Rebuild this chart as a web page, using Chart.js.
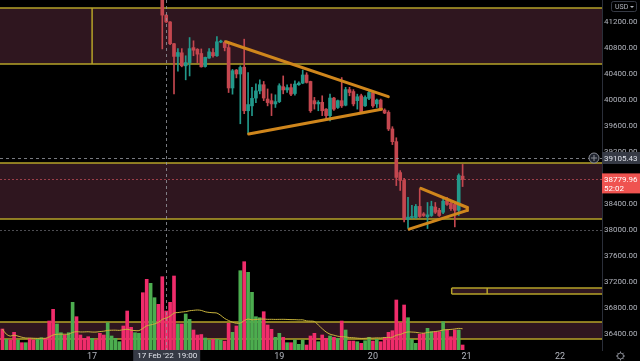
<!DOCTYPE html>
<html>
<head>
<meta charset="utf-8">
<script src="https://cdn.jsdelivr.net/npm/chart.js@4.4.1/dist/chart.umd.min.js"></script>
<style>
html,body{margin:0;padding:0;background:#000;overflow:hidden;}
#box{position:relative;width:640px;height:361px;}
canvas{display:block;}
</style>
</head>
<body>
<div id="box"><canvas id="chart" width="640" height="361"></canvas></div>
<script>
// ---------- DATA (hourly BTC/USD, hour index 0 = 16 Feb 2022 00:00) ----------
const dayTicks  = [24, 48, 72, 96, 120, 144];
const dayLabels = ['17', '18', '19', '20', '21', '22'];

// volume, one bar per hour starting at hour 1
const FIRST_VOL_HOUR = 1;
const volume = [
 210,107,100,177,100, 73, 73,117,100,107,123,117,290,407,260,173,150,173,477,333,
 150,117,133,117,100,167,150,273,140,117, 83,240,390,227,173,167,573,707,667,523,
 457,733,390,477,740,260,260,360,307,200,150,155,120,100,107,107,100, 90,267,177,
 240,793,883,777,577,333,323,383,250,207,127,167,127, 73, 73,100, 57,100, 50,140,
 167, 83,150,117,140,127,117,290,200, 90, 90, 83, 67, 93,127, 90,107, 83,127,177,
 193,500,273,450,323,107, 67,157,167,217,183,183,183,283,200,133,200,200, 50
];
// direction of the volume bars whose candles are above the visible price range
const earlyDir = ['d','u','d','d','u','d','u','d','d','u','u','d','d','d','u','u','d','u','u','d',
                  'd','d','d','u','d','d','d','u','u','u','u','d','d','d','u','u','d','d','u','u','d'];

// visible candles, starting at hour 42 (17 Feb 18:00)
const FIRST_CANDLE_HOUR = 42;
const open  = [41700,41305,41200,40865,40670,40725,40525,40575,40805,40780,40715,40515,40645,40730,40680,40890,40885,40805,40185,40460,
               40400,40505,39835,39910,40030,40140,40235,40015,39990,39940,39975,40205,40155,40190,40100,40235,40260,40385,40285,39990,
               39940,39965,39860,39760,40030,39885,39990,39920,40160,40130,39990,40065,39910,40025,40115,39940,40000,39845,39810,39555,
               39360,38885,38765,38165,38195,38195,38365,38250,38205,38225,38355,38305,38275,38455,38415,38395,38305,38830];
const high  = [41750,41310,41205,40870,40790,40790,40680,40960,40910,40790,40785,40660,40790,40790,40975,40920,40910,40885,40470,40470,
               40525,40935,40420,40195,40250,40310,40285,40170,40095,40080,40250,40370,40235,40245,40295,40280,40460,40420,40290,40040,
               39990,40065,39870,40090,40040,40000,40345,40195,40195,40160,40090,40090,40065,40155,40125,40015,40015,39865,39835,39590,
               39420,38915,38795,38505,38380,38395,38635,38270,38425,38445,38425,38335,38480,38505,38440,38410,38865,39010];
const low   = [40785,41190,40850,40095,40445,40510,40310,40370,40680,40575,40505,40505,40640,40660,40670,40880,40755,40115,40090,40340,
               39635,39790,39480,39760,39960,40095,39990,39910,39760,39885,39960,40095,40115,40065,40075,40225,40250,40260,39810,39860,
               39835,39760,39710,39680,39840,39870,39885,39910,40065,39910,39860,39805,39900,40005,39885,39885,39835,39790,39530,39315,
               38685,38610,38125,38025,38180,38180,38195,38210,38025,38210,38255,38210,38255,38380,38305,38050,38225,38670];
const close = [41305,41200,40865,40670,40730,40525,40575,40790,40765,40705,40510,40655,40740,40680,40895,40905,40805,40185,40450,40400,
               40500,39835,39930,40025,40140,40235,40030,39960,39940,39975,40220,40155,40190,40090,40245,40260,40385,40270,39835,39940,
               39965,39835,39760,40030,39860,39990,39910,40160,40115,39940,40050,39810,40040,40115,39910,40000,39860,39800,39555,39360,
               38810,38765,38165,38200,38210,38365,38210,38225,38235,38365,38275,38225,38445,38395,38330,38305,38840,38780];

// chart drawings (hour, price)
const triangle1Upper = [{x: 58.3, y: 40896}, {x: 99.95, y: 40051}];
const triangle1Lower = [{x: 64.15, y: 39478}, {x: 98.2, y: 39857}];
const triangle2Upper = [{x: 108.3, y: 38643}, {x: 120.2, y: 38348}];
const triangle2Lower = [{x: 105.3, y: 38015}, {x: 120.2, y: 38303}];
const triangle2Close = [{x: 120.2, y: 38348}, {x: 120.2, y: 38303}];

const zoneFrom   = [-10, -10, 116.2, -10];
const zoneTop    = [41409, 39037, 37107, 36584];
const zoneBottom = [40553, 38171, 37014, 36327];
const zoneMarks  = [[24], [], [125.3], []];

const crossHour = 43;
const crossPrice = 39105.43;
const crossTimeLabel = ["17 Feb '22", "19:00"];
const lastPrice = 38779.96;
const countdown = '52:02';
const levelLine = 38000;

// ---------- STYLE ----------
const C = {
  up: '#22998b', down: '#c4474f',
  volUp: '#4cad4f', volDown: '#f02c6b',
  ma: '#c9b43c', tri: '#cf861c',
  zoneFill: '#2f161f', zoneLine: '#b5a229',
  text: '#b2b5be', axisLine: '#2a2e39', label: '#363a45'
};
Chart.defaults.font.family = 'Roboto, "Noto Sans", sans-serif';

// ---------- BUILD ----------
const candleUp = open.map((o, i) => close[i] >= o);
const volUp = volume.map((v, i) => {
  const h = FIRST_VOL_HOUR + i;
  const ci = h - FIRST_CANDLE_HOUR;
  return ci >= 0 ? candleUp[ci] : earlyDir[i] === 'u';
});
const volData = volume.map((v, i) => ({x: FIRST_VOL_HOUR + i, y: v}));
const maData = volume.map((v, i) => {
  const w = volume.slice(Math.max(0, i - 19), i + 1);
  return {x: FIRST_VOL_HOUR + i, y: w.reduce((a, b) => a + b, 0) / w.length};
});
const wickData = open.map((o, i) => ({x: FIRST_CANDLE_HOUR + i, y: [low[i], high[i]]}));
const bodyData = open.map((o, i) => ({x: FIRST_CANDLE_HOUR + i, y: [Math.min(o, close[i]), Math.max(o, close[i])]}));

const triDs = d => ({type: 'line', data: d, borderColor: C.tri, borderWidth: 3, pointRadius: 0,
  yAxisID: 'y', order: 1, borderCapStyle: 'round'});

const noPad = s => { s.paddingTop = 0; s.paddingBottom = 0; s.paddingLeft = 0; s.paddingRight = 0; };

const tvPlugin = {
  id: 'tv',
  beforeDatasetsDraw(chart) {
    const {ctx, chartArea: a, scales: {x, y}} = chart;
    ctx.save();
    ctx.beginPath(); ctx.rect(a.left, a.top, a.right - a.left, a.bottom - a.top); ctx.clip();
    zoneTop.forEach((t, i) => {
      const x0 = Math.max(a.left - 2, x.getPixelForValue(zoneFrom[i]));
      const x1 = a.right;
      const y0 = Math.round(y.getPixelForValue(t)), y1 = Math.round(y.getPixelForValue(zoneBottom[i]));
      ctx.fillStyle = C.zoneFill;
      ctx.fillRect(x0, y0, x1 - x0, y1 - y0);
      ctx.strokeStyle = C.zoneLine; ctx.lineWidth = 1.5;
      ctx.beginPath();
      ctx.moveTo(x0, y0); ctx.lineTo(x1, y0);
      ctx.moveTo(x0, y1); ctx.lineTo(x1, y1);
      if (x0 > a.left) { ctx.moveTo(x0, y0); ctx.lineTo(x0, y1); }
      zoneMarks[i].forEach(h => { const xm = x.getPixelForValue(h); ctx.moveTo(xm, y0); ctx.lineTo(xm, y1); });
      ctx.stroke();
    });
    ctx.lineWidth = 1;
    ctx.setLineDash([2, 2]);
    let ly = Math.round(y.getPixelForValue(levelLine)) + 0.5;
    ctx.strokeStyle = 'rgba(140,140,150,0.55)';
    ctx.beginPath(); ctx.moveTo(a.left, ly); ctx.lineTo(a.right, ly); ctx.stroke();
    ly = Math.round(y.getPixelForValue(lastPrice)) + 0.5;
    ctx.strokeStyle = 'rgba(200,80,90,0.7)';
    ctx.beginPath(); ctx.moveTo(a.left, ly); ctx.lineTo(a.right, ly); ctx.stroke();
    ctx.restore();
  },
  afterDatasetsDraw(chart) {
    const {ctx, chartArea: a, scales: {x, y}} = chart;
    ctx.save();
    ctx.strokeStyle = 'rgba(150,152,160,0.8)'; ctx.lineWidth = 1; ctx.setLineDash([3, 3]);
    const cx = Math.round(x.getPixelForValue(crossHour)) + 0.5;
    const cy = Math.round(y.getPixelForValue(crossPrice)) + 0.5;
    ctx.beginPath(); ctx.moveTo(cx, a.top); ctx.lineTo(cx, a.bottom); ctx.stroke();
    ctx.beginPath(); ctx.moveTo(a.left, cy); ctx.lineTo(a.right, cy); ctx.stroke();
    ctx.restore();
  },
  afterDraw(chart) {
    const {ctx, chartArea: a, scales: {x, y}} = chart;
    const W = chart.width;
    ctx.save();
    ctx.textBaseline = 'middle'; ctx.textAlign = 'left';
    ctx.font = '8px Roboto';
    const cy = Math.round(y.getPixelForValue(crossPrice));
    ctx.fillStyle = C.label; ctx.fillRect(a.right, cy - 6, W - a.right, 12);
    ctx.fillStyle = '#e0e3eb'; ctx.fillText(crossPrice.toFixed(2), a.right + 2, cy + 0.5);
    ctx.beginPath(); ctx.arc(a.right - 8, cy, 5, 0, Math.PI * 2);
    ctx.fillStyle = '#1e222d'; ctx.fill();
    ctx.strokeStyle = '#8a8d96'; ctx.lineWidth = 1; ctx.stroke();
    ctx.beginPath(); ctx.moveTo(a.right - 11, cy); ctx.lineTo(a.right - 5, cy);
    ctx.moveTo(a.right - 8, cy - 3); ctx.lineTo(a.right - 8, cy + 3); ctx.stroke();
    const ly = y.getPixelForValue(lastPrice);
    ctx.fillStyle = '#ef5350'; ctx.fillRect(a.right, ly - 6, W - a.right, 20);
    ctx.fillStyle = '#ffffff';
    ctx.fillText(lastPrice.toFixed(2), a.right + 2, ly + 0.5);
    ctx.fillText(countdown, a.right + 2, ly + 9.5);
    const cx = x.getPixelForValue(crossHour);
    ctx.fillStyle = C.label; ctx.fillRect(cx - 33, a.bottom, 67, chart.height - a.bottom);
    ctx.fillStyle = '#e0e3eb'; ctx.font = '8px Roboto';
    ctx.fillText(crossTimeLabel[0], cx - 29, a.bottom + 6);
    ctx.fillText(crossTimeLabel[1], cx + 11, a.bottom + 6);
    ctx.strokeStyle = C.label; ctx.lineWidth = 1;
    ctx.beginPath(); ctx.roundRect(611.5, 1.5, 25, 10, 2); ctx.stroke();
    ctx.fillStyle = C.text; ctx.font = '7px Roboto';
    ctx.fillText('USD', 615, 7);
    ctx.beginPath(); ctx.moveTo(630, 6); ctx.lineTo(634, 6); ctx.lineTo(632, 8); ctx.closePath(); ctx.fill();
    ctx.strokeStyle = '#8a8d96';
    ctx.beginPath(); ctx.arc(620.5, 356, 3, 0, Math.PI * 2); ctx.stroke();
    for (let k = 0; k < 8; k++) {
      const ang = k * Math.PI / 4;
      ctx.beginPath(); ctx.moveTo(620.5 + Math.cos(ang) * 3, 356 + Math.sin(ang) * 3);
      ctx.lineTo(620.5 + Math.cos(ang) * 4.5, 356 + Math.sin(ang) * 4.5); ctx.stroke();
    }
    ctx.restore();
  }
};

new Chart(document.getElementById('chart'), {
  type: 'bar',
  data: {
    datasets: [
      triDs(triangle1Upper), triDs(triangle1Lower), triDs(triangle2Upper), triDs(triangle2Lower), triDs(triangle2Close),
      {type: 'bar', data: bodyData, yAxisID: 'y', grouped: false, barThickness: 3, minBarLength: 1, order: 2,
       backgroundColor: c => candleUp[c.dataIndex] ? C.up : C.down},
      {type: 'bar', data: wickData, yAxisID: 'y', grouped: false, barThickness: 1, order: 3,
       backgroundColor: c => candleUp[c.dataIndex] ? C.up : C.down},
      {type: 'line', data: maData, yAxisID: 'yv', borderColor: C.ma, borderWidth: 1, pointRadius: 0, tension: 0.3, order: 4},
      {type: 'bar', data: volData, yAxisID: 'yv', grouped: false, barThickness: 3, order: 5,
       backgroundColor: c => volUp[c.dataIndex] ? C.volUp : C.volDown}
    ]
  },
  options: {
    responsive: false, animation: false, devicePixelRatio: 1,
    layout: {padding: 0},
    plugins: {legend: {display: false}, tooltip: {enabled: false}},
    scales: {
      x: {
        type: 'linear', min: 0.385, max: 154.74, offset: false,
        grid: {display: false, drawTicks: false}, border: {display: false},
        afterBuildTicks: s => { s.ticks = dayTicks.map(v => ({value: v})); },
        afterFit: s => { s.height = 11; noPad(s); },
        ticks: {color: C.text, font: {size: 9}, padding: 1, maxRotation: 0, autoSkip: false,
                callback: (v, i) => dayLabels[i]}
      },
      y: {
        position: 'right', min: 36158, max: 41537,
        grid: {display: false, drawTicks: false}, border: {display: true, color: C.axisLine},
        afterFit: s => { s.width = 38; noPad(s); },
        ticks: {stepSize: 400, includeBounds: false, color: C.text, font: {size: 8}, padding: 2,
                callback: v => v.toFixed(2)}
      },
      yv: {display: false, min: 0, max: 3500}
    }
  },
  plugins: [tvPlugin]
});
</script>
</body>
</html>
